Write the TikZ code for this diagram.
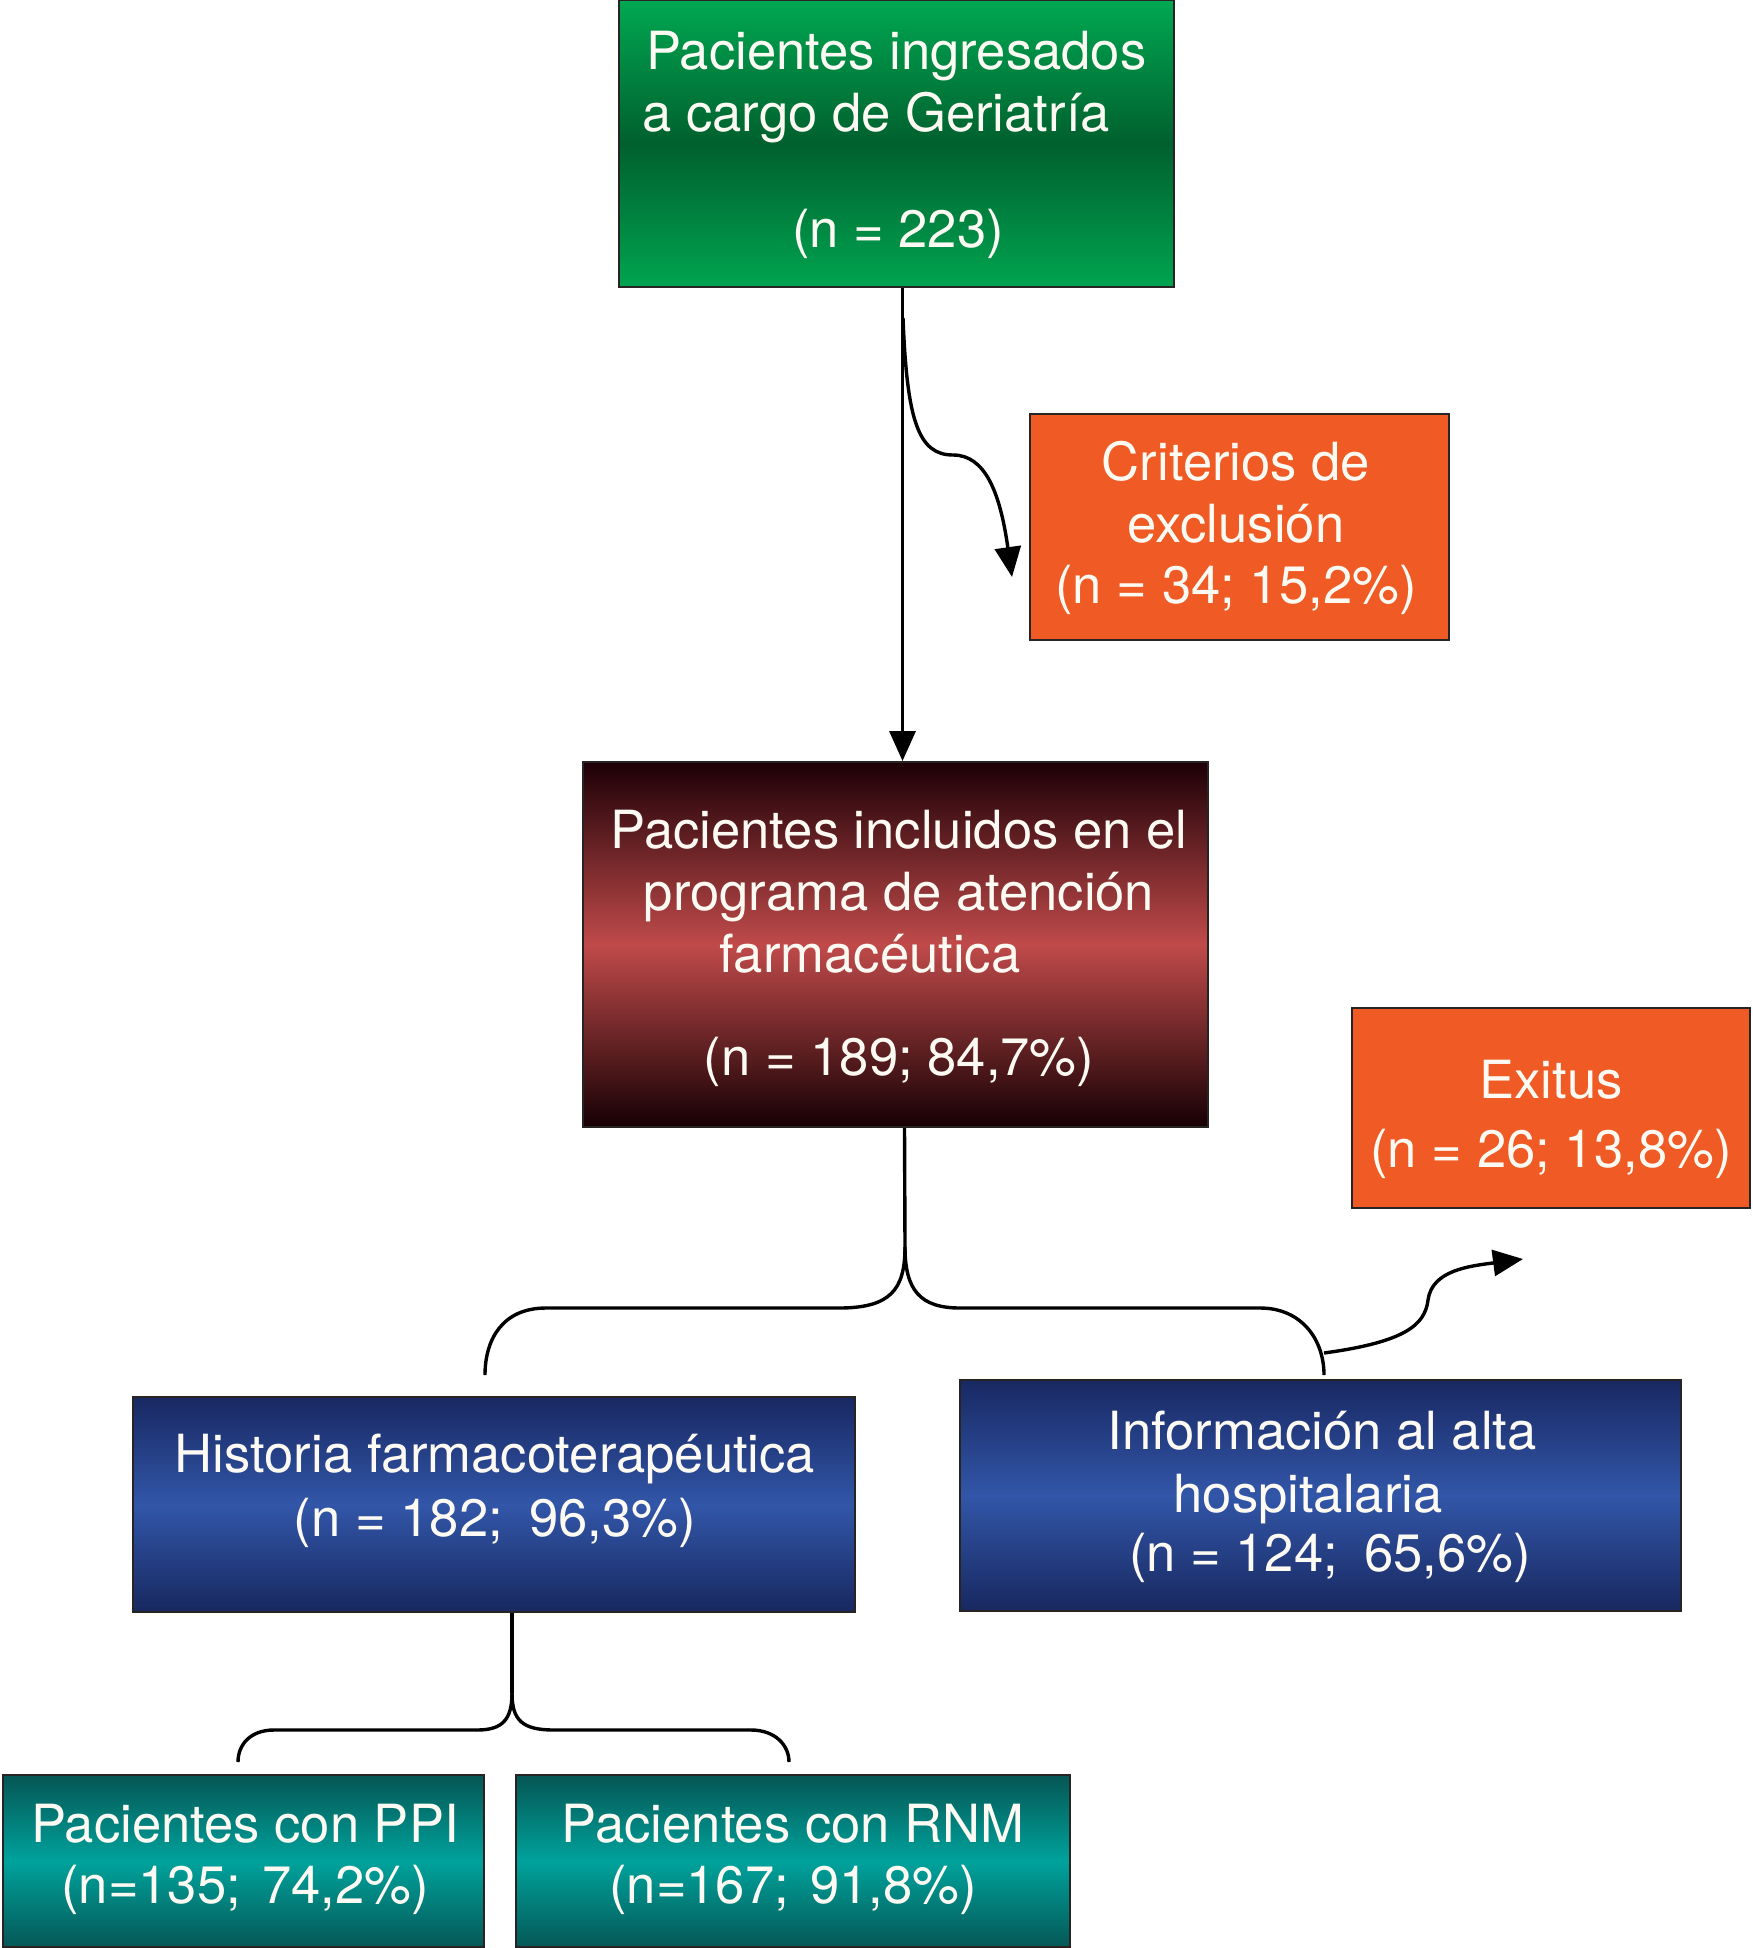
\documentclass[tikz,border=0pt]{standalone}
\usepackage{fontspec}
\setmainfont{TeX Gyre Heros}
\usetikzlibrary{arrows.meta}
\definecolor{bordercol}{RGB}{40,36,36}
\definecolor{txtcol}{RGB}{252,250,242}
\definecolor{gtop}{RGB}{0,168,82}
\definecolor{gmid}{RGB}{0,96,46}
\definecolor{gbot}{RGB}{0,164,80}
\definecolor{rtop}{RGB}{28,0,6}
\definecolor{rmid}{RGB}{192,74,74}
\definecolor{rbot}{RGB}{22,0,4}
\definecolor{btop}{RGB}{24,40,98}
\definecolor{bmid}{RGB}{50,86,168}
\definecolor{bbot}{RGB}{24,40,96}
\definecolor{ttop}{RGB}{5,86,84}
\definecolor{tmid}{RGB}{0,162,156}
\definecolor{tbot}{RGB}{5,88,86}
\definecolor{orangebox}{RGB}{240,90,36}
\tikzset{
  bx/.style={draw=bordercol, line width=1pt, inner sep=0pt},
  wh/.style 2 args={minimum width=#1*0.5pt, minimum height=#2*0.5pt},
  greenbox/.style={bx, top color=gtop, bottom color=gbot, middle color=gmid},
  redbox/.style={bx, top color=rtop, bottom color=rbot, middle color=rmid},
  bluebox/.style={bx, top color=btop, bottom color=bbot, middle color=bmid},
  tealbox/.style={bx, top color=ttop, bottom color=tbot, middle color=tmid},
  orbox/.style={bx, fill=orangebox},
  txt/.style={text=txtcol, font=\fontsize{26.3}{31}\selectfont, inner sep=0pt, anchor=base},
  conn/.style={draw=black, line width=1.7pt},
  tip/.style={-{Triangle[length=15pt,width=13pt]}}
}
\begin{document}
\begin{tikzpicture}[x=0.5pt,y=-0.5pt]
\useasboundingbox (0,0) rectangle (1752,1948);
% boxes
\node[greenbox, wh={555}{287}] (green) at (896.5,143.5) {};
\node[orbox, wh={419}{226}] (crit) at (1239.5,527) {};
\node[redbox, wh={625}{365}] (red) at (895.5,944.5) {};
\node[orbox, wh={398}{200}] (exitus) at (1551,1108) {};
\node[bluebox, wh={722}{215}] (hist) at (494,1504.5) {};
\node[bluebox, wh={721}{231}] (info) at (1320.5,1495.5) {};
\node[tealbox, wh={481}{172}] (ppi) at (243.5,1861) {};
\node[tealbox, wh={554}{172}] (rnm) at (793,1861) {};
% texts
\node[txt, anchor=base west] (g1) at (646,70) {Pacientes ingresados};
\node[txt, anchor=base west] (g2) at (642,132) {a cargo de Geriatría};
\node[txt] (g3) at (898,247) {(n = 223)};
\node[txt] (c1) at (1236,480) {Criterios de};
\node[txt] (c2) at (1236,542) {exclusión};
\node[txt] (c3) at (1236,603) {(n = 34; 15,2\%)};
\node[txt] (r1) at (899,848) {Pacientes incluidos en el};
\node[txt] (r2) at (899,910) {programa de atención};
\node[txt] (r3) at (870,972) {farmacéutica};
\node[txt] (r4) at (899,1075) {(n = 189; 84,7\%)};
\node[txt] (e1) at (1551,1098) {Exitus};
\node[txt] (e2) at (1551,1167) {(n = 26; 13,8\%)};
\node[txt] (h1) at (495,1472) {Historia farmacoterapéutica};
\node[txt] (h2) at (495,1536) {(n = 182;\hspace{0.5em}96,3\%)};
\node[txt] (i1) at (1322,1449) {Información al alta};
\node[txt] (i2) at (1308,1512) {hospitalaria};
\node[txt] (i3) at (1330,1571) {(n = 124;\hspace{0.5em}65,6\%)};
\node[txt] (p1) at (245,1842) {Pacientes con PPI};
\node[txt] (p2) at (245,1903) {(n=135;\hspace{0.4em}74,2\%)};
\node[txt] (q1) at (793,1842) {Pacientes con RNM};
\node[txt] (q2) at (793,1903) {(n=167;\hspace{0.4em}91,8\%)};
% main arrow
\draw[conn, tip] ([xshift=3pt]green.south) -- ([xshift=3pt]green.south |- red.north);
% arrow to exclusion
\coordinate (cs) at (903,318);
\coordinate (ct) at (1012,577);
\draw[conn, tip] (cs) .. controls (907,420) and (918,455) .. (953,455)
  .. controls (985,455) and (1000,492) .. (ct);
% brace 1
\coordinate (b1) at (905,1247);
\coordinate (b1l) at (485,1375);
\coordinate (b1r) at (1324,1375);
\draw[conn] ([xshift=4.5pt]red.south) -- (b1);
\draw[conn] (b1) .. controls (905,1290) and (890,1308) .. (839,1308) -- (546,1308)
  .. controls (502,1308) and (485,1340) .. (b1l);
\draw[conn] (b1) .. controls (905,1290) and (920,1308) .. (960,1308) -- (1260,1308)
  .. controls (1302,1308) and (1324,1340) .. (b1r);
% arrow to exitus
\coordinate (e0) at (1324,1353);
\coordinate (et) at (1523,1259);
\draw[conn, tip] (e0) .. controls (1405,1342) and (1425,1325) .. (1428,1300)
  .. controls (1432,1270) and (1470,1266) .. (et);
% brace 2
\coordinate (b2) at (512,1693);
\coordinate (b2l) at (238,1762);
\coordinate (b2r) at (789,1762);
\draw[conn] ([xshift=9pt]hist.south) -- (b2);
\draw[conn] (b2) .. controls (512,1720) and (502,1730) .. (477,1730) -- (274,1730)
  .. controls (250,1730) and (238,1745) .. (b2l);
\draw[conn] (b2) .. controls (512,1720) and (522,1730) .. (554,1730) -- (751,1730)
  .. controls (775,1730) and (789,1745) .. (b2r);
\end{tikzpicture}
\end{document}
